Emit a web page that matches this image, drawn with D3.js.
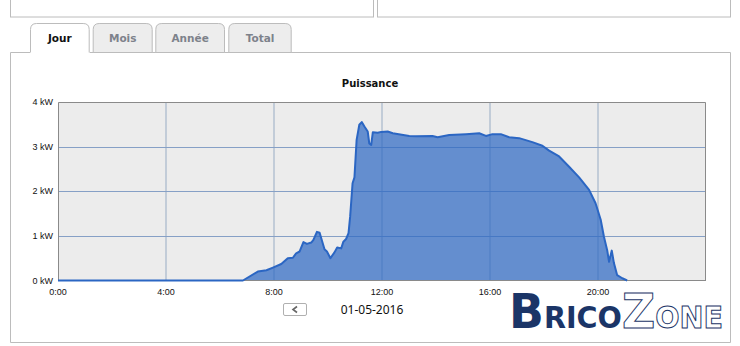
<!DOCTYPE html>
<html>
<head>
<meta charset="utf-8">
<script src="https://cdn.jsdelivr.net/npm/d3@7"></script>
<style>
  body { margin: 0; background: #fff; }
  svg { display: block; }
</style>
</head>
<body>
<div id="chart"></div>
<script>
// data (hour of day, kW)
var hours = [0, 6.85, 7.40, 7.72, 7.96, 8.27, 8.51, 8.70, 8.82, 8.95, 9.09, 9.22, 9.38, 9.46, 9.59, 9.69,
    9.87, 9.96, 10.09, 10.24, 10.34, 10.49, 10.57, 10.67, 10.76, 10.82, 10.91, 10.98, 11.06, 11.16, 11.25,
    11.35, 11.47, 11.53, 11.60, 11.66, 11.84, 11.97, 12.21, 12.40, 13.01, 13.26, 13.87, 14.06, 14.49, 15.11,
    15.60, 15.85, 16.09, 16.40, 16.71, 17.08, 17.57, 17.94, 18.19, 18.56, 18.93, 19.30, 19.67, 19.91, 20.10,
    20.22, 20.34, 20.41, 20.51, 20.59, 20.71, 20.90, 21.08];
var power = [0, 0, 0.20, 0.23, 0.29, 0.37, 0.50, 0.51, 0.61, 0.65, 0.86, 0.82, 0.85, 0.91, 1.09, 1.07,
    0.70, 0.65, 0.50, 0.63, 0.74, 0.72, 0.87, 0.93, 1.06, 1.43, 2.18, 2.31, 3.15, 3.49, 3.55,
    3.45, 3.34, 3.07, 3.04, 3.32, 3.31, 3.33, 3.34, 3.30, 3.24, 3.23, 3.24, 3.21, 3.26, 3.28,
    3.30, 3.24, 3.28, 3.28, 3.21, 3.19, 3.10, 3.02, 2.91, 2.78, 2.55, 2.31, 2.03, 1.73, 1.36,
    0.98, 0.68, 0.42, 0.67, 0.39, 0.12, 0.05, 0.0];

var xTicks = [0, 4, 8, 12, 16, 20];
var xTickLabels = ["0:00", "4:00", "8:00", "12:00", "16:00", "20:00"];
var yTicks = [0, 1, 2, 3, 4];
var yTickLabels = ["0 kW", "1 kW", "2 kW", "3 kW", "4 kW"];
var tabs = ["Jour", "Mois", "Année", "Total"];
var chartTitle = "Puissance";
var dateLabel = "01-05-2016";

var W = 740, H = 346;
var plot = { left: 58, right: 706, top: 102, bottom: 280.5 };

var svg = d3.select("#chart").append("svg")
    .attr("width", W)
    .attr("height", H);

// top boxes (cut off)
svg.append("rect").attr("x", 10.5).attr("y", -5).attr("width", 363).attr("height", 22)
    .attr("fill", "none").attr("stroke", "#bcbcbc");
svg.append("rect").attr("x", 377.5).attr("y", -5).attr("width", 353).attr("height", 22)
    .attr("fill", "none").attr("stroke", "#bcbcbc");

// main panel
svg.append("path")
    .attr("d", "M30,52.5 H10.5 V342.5 H730.5 V52.5 H89.7")
    .attr("fill", "none").attr("stroke", "#bcbcbc");

// tabs
var tabX = [30, 92.7, 155.3, 228.3];
var tabW = [59.7, 60, 69.7, 63.4];
tabs.forEach(function (t, i) {
    var x0 = tabX[i] + 0.5, x1 = tabX[i] + tabW[i] - 0.5, y0 = 23.5, y1 = 52.5, r = 6;
    var active = i === 0;
    svg.append("path")
        .attr("d", "M" + x0 + "," + y1 + " V" + (y0 + r) + " Q" + x0 + "," + y0 + " " + (x0 + r) + "," + y0 +
            " H" + (x1 - r) + " Q" + x1 + "," + y0 + " " + x1 + "," + (y0 + r) + " V" + y1 + (active ? "" : " Z"))
        .attr("fill", active ? "#fff" : "#ededed")
        .attr("stroke", "#bcbcbc");
    svg.append("text")
        .attr("x", tabX[i] + tabW[i] / 2)
        .attr("y", 41.5)
        .attr("text-anchor", "middle")
        .style("font-family", "DejaVu Sans, Verdana, sans-serif")
        .style("font-size", "10.5px")
        .style("font-weight", "bold")
        .style("fill", active ? "#111" : "#7d828b")
        .text(t);
});

// scales
var x = d3.scaleLinear().domain([0, 24]).range([plot.left, plot.right]);
var y = d3.scaleLinear().domain([0, 4]).range([plot.bottom, plot.top]);

// plot background
svg.append("rect")
    .attr("x", plot.left).attr("y", plot.top)
    .attr("width", plot.right - plot.left).attr("height", plot.bottom - plot.top)
    .attr("fill", "#ececec");

// vertical grid
svg.append("g").selectAll("line")
    .data(xTicks.filter(function (d) { return d > 0; }))
    .enter().append("line")
    .attr("x1", function (d) { return x(d); })
    .attr("x2", function (d) { return x(d); })
    .attr("y1", plot.top).attr("y2", plot.bottom)
    .attr("stroke", "#c2ccd8")
    .attr("stroke-width", 2);

// horizontal grid
svg.append("g").selectAll("line")
    .data(yTicks.filter(function (d) { return d > 0 && d < 4; }))
    .enter().append("line")
    .attr("x1", plot.left).attr("x2", plot.right)
    .attr("y1", function (d) { return Math.round(y(d)) + 0.5; })
    .attr("y2", function (d) { return Math.round(y(d)) + 0.5; })
    .attr("stroke", "#86a0c6")
    .attr("stroke-width", 1);

var series = hours.map(function (h, i) { return [h, power[i]]; });

// area
var area = d3.area()
    .x(function (d) { return x(d[0]); })
    .y0(y(0))
    .y1(function (d) { return y(d[1]); });
svg.append("path")
    .datum(series)
    .attr("d", area)
    .attr("fill", "#2b66c3")
    .attr("fill-opacity", 0.7);

// plot border
svg.append("path")
    .attr("d", "M" + (plot.left + 0.5) + "," + plot.bottom + " V" + (plot.top + 0.5) + " H" + (plot.right - 0.5) + " V" + plot.bottom)
    .attr("fill", "none")
    .attr("stroke", "#8a8a8a");
svg.append("line")
    .attr("x1", plot.left).attr("x2", plot.right)
    .attr("y1", plot.bottom).attr("y2", plot.bottom)
    .attr("stroke", "#8a8a8a");

// line
var line = d3.line()
    .x(function (d) { return x(d[0]); })
    .y(function (d) { return y(d[1]); });
svg.append("path")
    .datum(series)
    .attr("d", line)
    .attr("fill", "none")
    .attr("stroke", "#2b66c3")
    .attr("stroke-width", 2)
    .attr("stroke-linejoin", "round");

// y labels
svg.append("g").selectAll("text")
    .data(yTicks)
    .enter().append("text")
    .attr("x", plot.left - 5)
    .attr("y", function (d) { return y(d) + 3; })
    .attr("text-anchor", "end")
    .style("font-family", "Liberation Sans, Arial, sans-serif")
    .style("font-size", "9px")
    .style("fill", "#111")
    .text(function (d, i) { return yTickLabels[i]; });

// x labels
svg.append("g").selectAll("text")
    .data(xTicks)
    .enter().append("text")
    .attr("x", function (d) { return x(d); })
    .attr("y", 295)
    .attr("text-anchor", "middle")
    .style("font-family", "Liberation Sans, Arial, sans-serif")
    .style("font-size", "9px")
    .style("fill", "#111")
    .text(function (d, i) { return xTickLabels[i]; });

// title
svg.append("text")
    .attr("x", 370)
    .attr("y", 87)
    .attr("text-anchor", "middle")
    .style("font-family", "DejaVu Sans, Verdana, sans-serif")
    .style("font-size", "10px")
    .style("font-weight", "bold")
    .style("fill", "#111")
    .text(chartTitle);

// previous-day button
svg.append("rect")
    .attr("x", 283.5).attr("y", 303.5).attr("width", 23).attr("height", 12).attr("rx", 1.5)
    .attr("fill", "#fff").attr("stroke", "#b0b0b0");
svg.append("path")
    .attr("d", "M297,306.5 L293,309.5 L297,312.5")
    .attr("fill", "none").attr("stroke", "#666").attr("stroke-width", 1.6);

// date
svg.append("text")
    .attr("x", 372)
    .attr("y", 314)
    .attr("text-anchor", "middle")
    .style("font-family", "Noto Sans, Open Sans, sans-serif")
    .style("font-size", "12px")
    .style("fill", "#111")
    .text(dateLabel);

// watermark logo
var logo = svg.append("text")
    .attr("x", 509)
    .attr("y", 328)
    .attr("textLength", 214)
    .attr("lengthAdjust", "spacingAndGlyphs")
    .style("font-family", "DejaVu Sans, sans-serif")
    .style("font-weight", "bold");
logo.append("tspan").style("font-size", "48px").attr("fill", "#1b3567").text("B");
logo.append("tspan").style("font-size", "30px").attr("fill", "#1b3567").text("RICO");
logo.append("tspan").style("font-size", "48px").attr("fill", "none").attr("stroke", "#1b3567").attr("stroke-width", 1).text("Z");
logo.append("tspan").style("font-size", "30px").attr("fill", "none").attr("stroke", "#1b3567").attr("stroke-width", 1).text("ONE");
</script>
</body>
</html>
